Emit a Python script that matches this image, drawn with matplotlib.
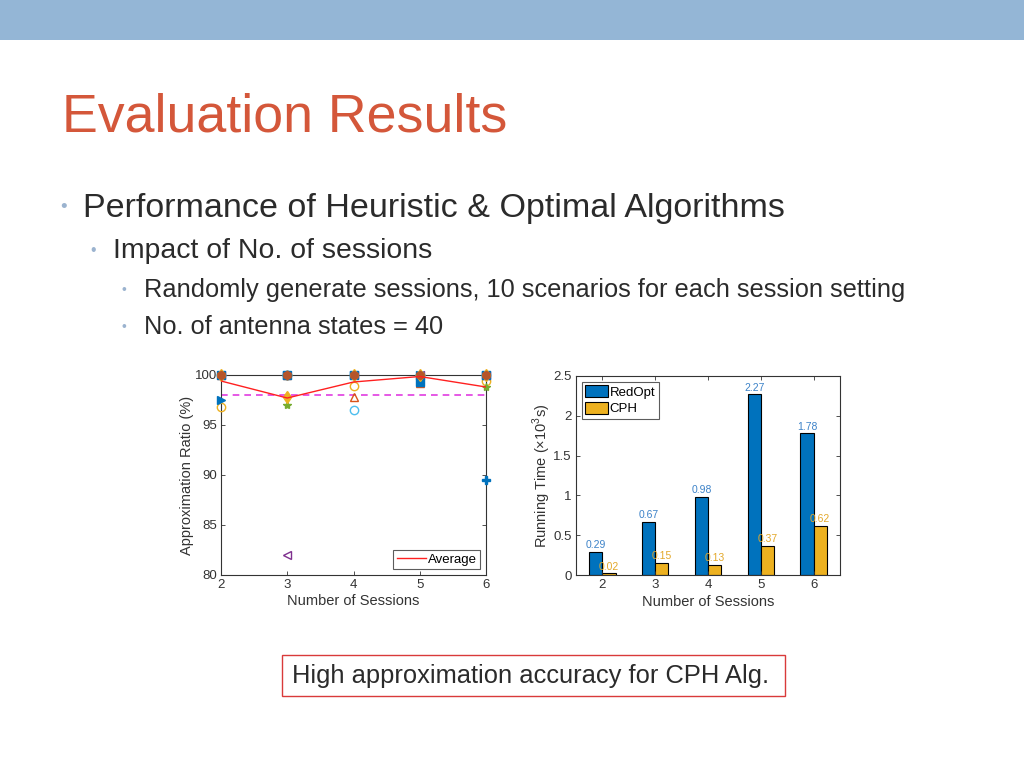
import matplotlib
matplotlib.use("Agg")
import matplotlib.pyplot as plt
from matplotlib.patches import Rectangle

plt.rcParams['font.family'] = ['Liberation Sans', 'DejaVu Sans']
plt.rcParams['mathtext.fontset'] = 'custom'
plt.rcParams['mathtext.rm'] = 'Liberation Sans'

# ---------------- data ----------------
sessions = [2, 3, 4, 5, 6]
scen1 = [100, 100, 100, 100, 89.5]
scen2 = [100, 100, 100, 100, 100]
scen3 = [96.8, 100, 98.9, 100, 99.4]
scen4 = [100, 82, 100, 100, 100]
scen5 = [100, 97.0, 100, 100, 98.8]
scen6 = [100, 100, 96.5, 100, 100]
scen7 = [100, 100, 97.8, 99.2, 100]
scen8 = [100, 100, 100, 99.3, 100]
scen9 = [97.5, 100, 100, 100, 100]
scen10 = [100, 97.8, 100, 100, 100]
average = [99.4, 97.7, 99.3, 99.85, 98.8]
threshold = 98.0

redopt = [0.29, 0.67, 0.98, 2.27, 1.78]
cph = [0.02, 0.15, 0.13, 0.37, 0.62]

W, H = 1024, 768
fig = plt.figure(figsize=(W / 100, H / 100), dpi=100)
fig.patch.set_facecolor('white')

def fx(x):
    return x / W

def fy(y):
    return 1 - y / H

# top band
fig.patches.append(Rectangle((0, fy(40)), 1, 40 / H, transform=fig.transFigure,
                             facecolor='#94B6D6', edgecolor='none', zorder=0))

# title
fig.text(fx(62), fy(118), 'Evaluation Results', fontsize=38.7, color='#D4573A',
         va='center', ha='left')

text_col = '#2b2b2b'
bullet_col = '#9BB3CF'
# bullets
items = [
    (60, 83, 208, 'Performance of Heuristic & Optimal Algorithms', 24.5),
    (90, 113, 251, 'Impact of No. of sessions', 20.4),
    (121, 144, 290, 'Randomly generate sessions, 10 scenarios for each session setting', 18.3),
    (121, 144, 327, 'No. of antenna states = 40', 18.3),
]
for bx, tx, y, s, fs in items:
    fig.text(fx(bx), fy(y), '\u2022', fontsize=fs * 0.55, color=bullet_col, va='center', ha='left')
    fig.text(fx(tx), fy(y), s, fontsize=fs, color=text_col, va='center', ha='left')

# bottom box
fig.patches.append(Rectangle((fx(282), fy(696)), 503 / W, 41 / H, transform=fig.transFigure,
                             facecolor='white', edgecolor='#D93A3A', linewidth=1.0))
fig.text(fx(292), fy(676), 'High approximation accuracy for CPH Alg.', fontsize=18.4,
         color=text_col, va='center', ha='left')

mat_blue = '#0072BD'
mat_orange = '#D95319'
mat_yellow = '#EDB120'
mat_purple = '#7E2F8E'
mat_green = '#77AC30'
mat_cyan = '#4DBEEE'
axis_col = '#333333'
tick_fs = 9.5
lab_fs = 10.5

def style(ax):
    ax.tick_params(direction='in', top=True, right=True, labelsize=tick_fs,
                   colors=axis_col, length=3, width=0.6, pad=3)
    for sp in ax.spines.values():
        sp.set_color(axis_col)
        sp.set_linewidth(0.8)

# ---------------- left chart ----------------
ax1 = fig.add_axes([fx(221), fy(575), 265 / W, 200 / H])
scens = [
    (scen1, mat_blue, 'P', True),
    (scen3, mat_yellow, 'o', False),
    (scen4, mat_purple, '<', False),
    (scen5, mat_green, '*', True),
    (scen6, mat_cyan, 'o', False),
    (scen7, mat_orange, '^', False),
    (scen8, mat_blue, 's', True),
    (scen9, mat_blue, '>', True),
    (scen10, mat_yellow, 'd', True),
    (scen2, '#B5552A', 'h', True),
]
for vals, col, mk, filled in scens:
    ax1.plot(sessions, vals, linestyle='none', marker=mk, markersize=6,
             markeredgecolor=col, markerfacecolor=col if filled else 'none',
             markeredgewidth=1.0, clip_on=False, zorder=3)
ax1.plot(sessions, average, color='#FF2020', linewidth=1.0, label='Average', zorder=4)
ax1.axhline(threshold, color='#E03CE0', linestyle=(0, (4, 3)), linewidth=1.2, zorder=2)
ax1.set_xlim(2, 6)
ax1.set_ylim(80, 100)
ax1.set_xticks(sessions)
ax1.set_yticks([80, 85, 90, 95, 100])
ax1.set_xlabel('Number of Sessions', fontsize=lab_fs, color=axis_col, labelpad=2)
ax1.set_ylabel('Approximation Ratio (%)', fontsize=lab_fs, color=axis_col, labelpad=0.5)
style(ax1)
leg1 = ax1.legend(loc='lower right', fontsize=9.5, frameon=True, fancybox=False,
                  borderpad=0.25, handlelength=2.2, handletextpad=0.15, borderaxespad=0.45)
leg1.get_frame().set_edgecolor(axis_col)
leg1.get_frame().set_linewidth(0.8)

# ---------------- right chart ----------------
ax2 = fig.add_axes([fx(576), fy(575), 264 / W, 199 / H])
bw = 0.25
xl = [s - bw / 2 for s in sessions]
xr = [s + bw / 2 for s in sessions]
ax2.bar(xl, redopt, width=bw, color=mat_blue, edgecolor='black', linewidth=0.8,
        label='RedOpt')
ax2.bar(xr, cph, width=bw, color=mat_yellow, edgecolor='black', linewidth=0.8,
        label='CPH')
for x, v in zip(xl, redopt):
    ax2.text(x, v + 0.02, f'{v:.2f}', ha='center', va='bottom', fontsize=7.5, color='#3C82C8')
for x, v in zip(xr, cph):
    ax2.text(x, v + 0.02, f'{v:.2f}', ha='center', va='bottom', fontsize=7.5, color='#E3A82A')
ax2.set_xlim(1.5, 6.5)
ax2.set_ylim(0, 2.5)
ax2.set_xticks(sessions)
ax2.set_yticks([0, 0.5, 1, 1.5, 2, 2.5])
ax2.set_yticklabels(['0', '0.5', '1', '1.5', '2', '2.5'])
ax2.set_xlabel('Number of Sessions', fontsize=lab_fs, color=axis_col, labelpad=3)
ax2.set_ylabel('Running Time ($\\times10^3$s)', fontsize=lab_fs, color=axis_col, labelpad=0.5)
style(ax2)
leg2 = ax2.legend(loc='upper left', fontsize=9.5, frameon=True, fancybox=False,
                  borderpad=0.25, handlelength=1.7, handleheight=1.0, handletextpad=0.15,
                  labelspacing=0.25, borderaxespad=0.45)
leg2.get_frame().set_edgecolor(axis_col)
leg2.get_frame().set_linewidth(0.8)

fig.savefig('out.png', dpi=100, facecolor='white')
